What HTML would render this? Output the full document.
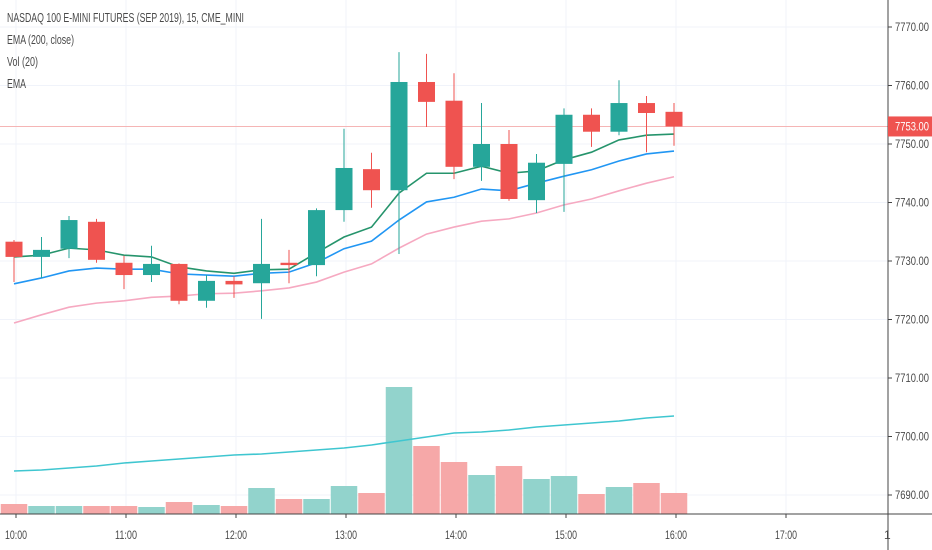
<!DOCTYPE html>
<html><head><meta charset="utf-8"><style>
body{margin:0;background:#fff;width:932px;height:550px;overflow:hidden;font-family:"Liberation Sans",sans-serif}
svg{display:block}
text{font-family:"Liberation Sans",sans-serif}
</style></head><body>
<svg id="chart" width="932" height="550" xmlns="http://www.w3.org/2000/svg">
<g id="grid"></g>
<g id="vol"></g>
<g id="ema"></g>
<g id="candles"></g>
<g id="axes"></g>
<g font-size="12.5" fill="#4a4a4a">
<text x="7" y="22" textLength="237" lengthAdjust="spacingAndGlyphs">NASDAQ 100 E-MINI FUTURES (SEP 2019), 15, CME_MINI</text>
<text x="7" y="44" textLength="67" lengthAdjust="spacingAndGlyphs">EMA (200, close)</text>
<text x="7" y="66" textLength="31" lengthAdjust="spacingAndGlyphs">Vol (20)</text>
<text x="7" y="88" textLength="19" lengthAdjust="spacingAndGlyphs">EMA</text>
</g>
</svg>
<script>
const opens=[7733.3,7730.7,7732.1,7736.7,7729.7,7727.6,7729.5,7723.2,7726.6,7726.2,7729.7,7729.3,7738.7,7745.7,7742.1,7760.6,7757.4,7746.1,7750,7740.4,7746.6,7755,7752.1,7757,7755.5];
const closes=[7730.7,7731.9,7737.0,7730.2,7727.6,7729.5,7723.2,7726.6,7726.0,7729.5,7729.3,7738.7,7745.9,7742.1,7760.6,7757.2,7746.1,7750,7740.6,7746.8,7755,7752.1,7757,7755.3,7753];
const highs=[7733.6,7734.1,7737.7,7737.2,7730.9,7732.6,7729.6,7727.6,7727.4,7737.2,7731.9,7739,7752.6,7748.5,7765.7,7765.4,7762.1,7757,7752.4,7748.3,7756.1,7756.1,7760.9,7758.2,7757];
const lows=[7726.4,7727.1,7730.5,7729.7,7725.2,7726.4,7722.6,7722,7723.7,7720.1,7726.2,7727.4,7736.7,7739.1,7731.2,7752.9,7744,7743.7,7740.3,7738.2,7738.4,7749.5,7751.5,7748.6,7749.7];
const emaGreen=[7730.7,7731.0,7732.2,7731.9,7731.0,7730.7,7729.0,7728.3,7727.9,7728.5,7728.6,7731.4,7734.1,7735.8,7741.6,7745.0,7745.0,7746.2,7745.0,7745.4,7747.3,7748.6,7750.7,7751.5,7751.7];
const emaBlue=[7726.1,7727.1,7728.3,7728.8,7728.6,7728.6,7727.8,7727.6,7727.4,7727.9,7728.1,7729.7,7732.1,7733.4,7737.0,7740.1,7740.9,7742.3,7742.0,7743.3,7744.5,7745.6,7747.1,7748.3,7748.8];
const emaPink=[7719.4,7720.8,7722.1,7722.8,7723.2,7723.8,7724.0,7724.4,7724.5,7724.9,7725.4,7726.4,7728.1,7729.5,7732.2,7734.6,7735.8,7736.8,7737.2,7738.2,7739.6,7740.6,7742.0,7743.3,7744.4];
const volumes=[10,8,8,8,8,7,12,9,8,26,15,15,28,21,127,68,52,39,48,35,38,20,27,31,21];
const volMA=[43,44,46,48,51,53,55,57,59,60,62,64,66,69,73,77,81,82,84,87,89,91,93,96,98];
const priceTicks=[7770,7760,7750,7740,7730,7720,7710,7700,7690];
const timeTicks=["10:00","11:00","12:00","13:00","14:00","15:00","16:00","17:00"];
const lastPrice=7753;

const NS="http://www.w3.org/2000/svg";
const PW=888, AXY=514;
const xOf=i=>14+i*27.5;
const yOf=p=>144-(p-7750)*5.85;
const vY=v=>AXY-v*1.0;
function mk(tag,attrs,parent){const e=document.createElementNS(NS,tag);for(const k in attrs)e.setAttribute(k,attrs[k]);parent.appendChild(e);return e;}
const grid=document.getElementById('grid'),vol=document.getElementById('vol'),ema=document.getElementById('ema'),cg=document.getElementById('candles'),axes=document.getElementById('axes');

priceTicks.forEach(p=>{
  const y=yOf(p);
  const l=mk('line',{x1:0,x2:PW,y1:y,y2:y,stroke:'#f0f3fa','stroke-width':1},grid);
  
  
  const tk=mk('line',{x1:PW,x2:PW+4,y1:y,y2:y,stroke:'#444'},axes);
  
  
  const t=mk('text',{x:PW+7,y:y+4,'font-size':12,fill:'#4a4a4a',textLength:34,lengthAdjust:'spacingAndGlyphs'},axes);
  t.textContent=p.toFixed(2);
  
  
});
timeTicks.forEach((s,k)=>{
  const x=xOf(k*4)+2;
  const l=mk('line',{x1:x,x2:x,y1:0,y2:AXY,stroke:'#f0f3fa','stroke-width':1},grid);
  
  
  const tk=mk('line',{x1:x,x2:x,y1:AXY,y2:AXY+4,stroke:'#444'},axes);
  
  
  const t=mk('text',{x:x-11,y:AXY+25,'font-size':12,fill:'#4a4a4a',textLength:22,lengthAdjust:'spacingAndGlyphs'},axes);
  t.textContent=s;
  
  
});
const cut=mk('text',{x:884,y:AXY+25,'font-size':12,fill:'#4a4a4a'},axes);
cut.textContent='1';



volumes.forEach((v,i)=>{
  const up=closes[i]>=opens[i];
  const r=mk('rect',{x:xOf(i)-13.25,y:vY(v),width:26.5,height:AXY-vY(v),fill:up?'#92d3cc':'#f6a8a8'},vol);
  
  
});
const vm=mk('polyline',{points:volMA.map((v,i)=>xOf(i)+','+vY(v)).join(' '),fill:'none',stroke:'#3fc6d0','stroke-width':1.6},vol);



const pl=mk('line',{x1:0,x2:PW,y1:yOf(lastPrice),y2:yOf(lastPrice),stroke:'#f5b5b5','stroke-width':1},grid);



[[emaPink,'#f6a9c1','ema-pink-line'],[emaBlue,'#2196f3','ema-blue-line'],[emaGreen,'#26946c','ema-green-line']].forEach(([arr,c,n])=>{
  const e=mk('polyline',{points:arr.map((v,i)=>xOf(i)+','+yOf(v)).join(' '),fill:'none',stroke:c,'stroke-width':1.6},ema);
  
  
});

opens.forEach((o,i)=>{
  const c=closes[i],up=c>=o,col=up?'#26a69a':'#ef5350',x=xOf(i);
  const g=mk('g',{},cg);
  
  
  mk('line',{x1:x,x2:x,y1:yOf(highs[i]),y2:yOf(lows[i]),stroke:col,'stroke-width':1},g);
  const top=yOf(Math.max(o,c)),bot=yOf(Math.min(o,c));
  mk('rect',{x:x-8.5,y:top,width:17,height:Math.max(2,bot-top),fill:col},g);
});

const al=mk('line',{x1:PW,x2:PW,y1:0,y2:550,stroke:'#444','stroke-width':1},axes);


const bl=mk('line',{x1:0,x2:932,y1:AXY,y2:AXY,stroke:'#444','stroke-width':1},axes);


const lb=mk('rect',{x:PW,y:yOf(lastPrice)-10,width:44,height:20,fill:'#ef5350'},axes);


const lt=mk('text',{x:PW+7,y:yOf(lastPrice)+4,'font-size':12,fill:'#fff',textLength:34,lengthAdjust:'spacingAndGlyphs'},axes);
lt.textContent=lastPrice.toFixed(2);


</script>
</body></html>
